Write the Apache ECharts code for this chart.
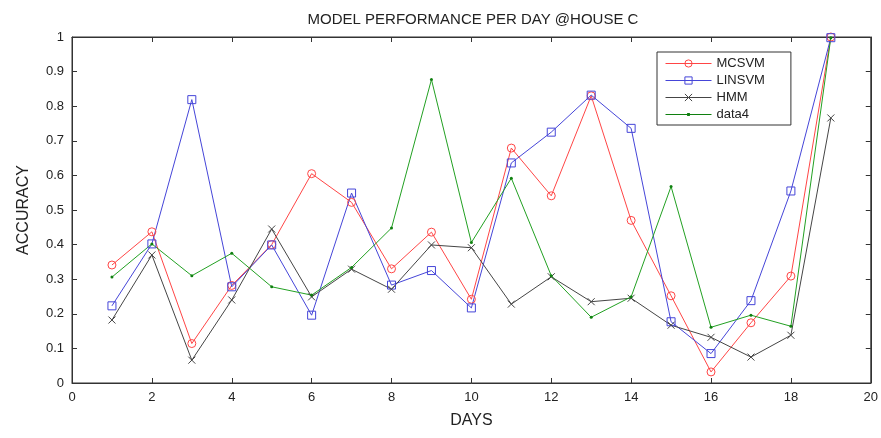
<!DOCTYPE html>
<html><head><meta charset="utf-8">
<script src="https://cdn.jsdelivr.net/npm/echarts@6/dist/echarts.min.js"></script>
<style>html,body{margin:0;padding:0;background:#fff}#c{width:881px;height:438px}</style>
</head><body><div id="c"></div>
<script>
const days = [1,2,3,4,5,6,7,8,9,10,11,12,13,14,15,16,17,18,19];
const mcsvm  = [0.341,0.437,0.114,0.282,0.400,0.605,0.522,0.330,0.436,0.242,0.679,0.541,0.830,0.470,0.252,0.032,0.174,0.309,1.0];
const linsvm = [0.223,0.402,0.819,0.278,0.399,0.196,0.549,0.283,0.325,0.217,0.636,0.725,0.832,0.736,0.177,0.085,0.238,0.555,0.998];
const hmm    = [0.182,0.370,0.066,0.240,0.445,0.249,0.329,0.271,0.399,0.391,0.228,0.307,0.235,0.245,0.167,0.132,0.075,0.138,0.766];
const data4  = [0.306,0.402,0.310,0.375,0.278,0.254,0.334,0.448,0.877,0.406,0.592,0.310,0.190,0.249,0.568,0.161,0.196,0.164,0.998];
const seriesNames = ['MCSVM','LINSVM','HMM','data4'];
const titleText = 'MODEL PERFORMANCE PER DAY @HOUSE C';

const pairs = a => a.map((v,i)=>[days[i], v]);
const chart = echarts.init(document.getElementById('c'));
const font = 'Liberation Sans, Arial';
const axisCommon = {
  axisLine:{show:true,onZero:false,lineStyle:{color:'#333',width:1}},
  axisTick:{show:true,inside:true,length:5,lineStyle:{color:'#333'}},
  splitLine:{show:false},
  axisLabel:{color:'#222',fontSize:13,fontFamily:font}
};
const RED='#ff4545', BLUE='#4545d8', GRAY='#454545', GREEN='#22a022';
chart.setOption({
  animation:false,
  backgroundColor:'#fff',
  title:{text:titleText,left:468,textAlign:'center',top:7,textStyle:{fontSize:15,fontWeight:'normal',color:'#222',fontFamily:font}},
  grid:{left:72,right:9,top:37,bottom:55,show:true,borderColor:'#333',borderWidth:1},
  legend:{
    data:[{name:'MCSVM'},{name:'LINSVM'},{name:'HMM'},
          {name:'data4',icon:'path://M0,4.6H46V5.4H0Z M21.6,3.6H24.4V6.4H21.6Z'}],
    orient:'vertical', left:657, top:52,
    borderColor:'#333', borderWidth:1, padding:[5,26,4,8], itemGap:4,
    itemWidth:46, itemHeight:9,
    lineStyle:{width:1},
    itemStyle:{borderWidth:1},
    textStyle:{fontSize:13,color:'#222',fontFamily:font}
  },
  xAxis:[Object.assign({type:'value',min:0,max:20,interval:2,name:'DAYS',nameLocation:'middle',nameGap:30,
    nameTextStyle:{fontSize:16,color:'#222',fontFamily:font}},axisCommon),
    Object.assign({type:'value',min:0,max:20,interval:2,position:'top'},axisCommon,{axisLabel:{show:false}})],
  yAxis:[Object.assign({type:'value',min:0,max:1,interval:0.1,name:'ACCURACY',nameLocation:'middle',nameGap:40,
    nameTextStyle:{fontSize:16,color:'#222',fontFamily:font}},axisCommon),
    Object.assign({type:'value',min:0,max:1,interval:0.1,position:'right'},axisCommon,{axisLabel:{show:false}})],
  series:[
    {name:'MCSVM',type:'line',data:pairs(mcsvm),symbol:'circle',symbolSize:8,
     lineStyle:{color:RED,width:1},itemStyle:{color:'rgba(255,255,255,0)',borderColor:RED,borderWidth:1}},
    {name:'LINSVM',type:'line',data:pairs(linsvm),symbol:'rect',symbolSize:8,
     lineStyle:{color:BLUE,width:1},itemStyle:{color:'rgba(255,255,255,0)',borderColor:BLUE,borderWidth:1}},
    {name:'HMM',type:'line',data:pairs(hmm),symbol:'path://M0,0L10,10M10,0L0,10',symbolSize:7,
     lineStyle:{color:GRAY,width:1},itemStyle:{color:GRAY,borderColor:GRAY,borderWidth:1}},
    {name:'data4',type:'line',data:pairs(data4),symbol:'circle',symbolSize:3,
     lineStyle:{color:GREEN,width:1},itemStyle:{color:'#108010'}}
  ]
});
</script></body></html>
